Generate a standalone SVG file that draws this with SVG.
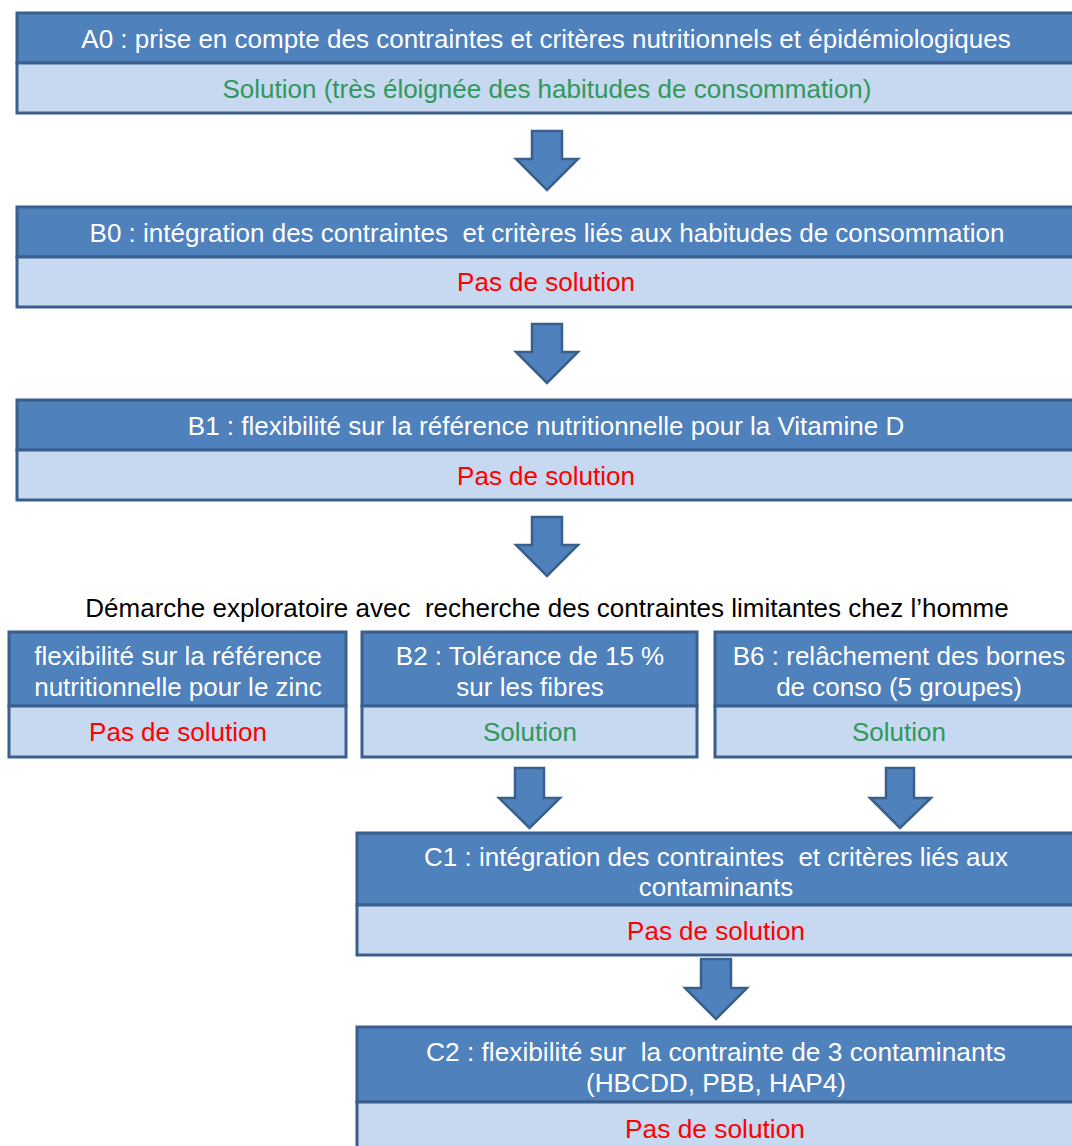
<svg xmlns="http://www.w3.org/2000/svg" width="1072" height="1146" viewBox="0 0 1072 1146">
<style>
.hd{fill:#4F81BD;stroke:#3A5F8C;stroke-width:3}
.bd{fill:#C6D9F0;stroke:#3A5F8C;stroke-width:3}
.ar{fill:#4F81BD;stroke:#3A5F8C;stroke-width:2.5;stroke-linejoin:miter}
text{font-family:"Liberation Sans",Arial,sans-serif;font-size:26px;text-anchor:middle;dominant-baseline:central;white-space:pre}
.w{fill:#FFFFFF}
.g{fill:#31985A}
.r{fill:#FF0000}
.k{fill:#000000}
</style>
<rect width="1072" height="1146" fill="#FFFFFF"/>
<g id="connectors">
<path class="ar" d="M532 131H562V159H578L547 190L516 159H532Z"/>
<path class="ar" d="M532 324H562V352H578L547 383L516 352H532Z"/>
<path class="ar" d="M532 517H562V545H578L547 576L516 545H532Z"/>
<path class="ar" d="M515 768H544V798H560L529.5 828L499 798H515Z"/>
<path class="ar" d="M886 768H914V798H931L900 828L870 798H886Z"/>
<path class="ar" d="M701 959H731V988H747L716 1019L685 988H701Z"/>
</g>
<g id="A0">
<rect class="hd" x="17" y="13" width="1063" height="50"/>
<rect class="bd" x="17" y="63" width="1063" height="50"/>
<text class="w" x="546" y="39">A0 : prise en compte des contraintes et critères nutritionnels et épidémiologiques</text>
<text class="g" x="547" y="89">Solution (très éloignée des habitudes de consommation)</text>
</g>
<g id="B0">
<rect class="hd" x="17" y="207" width="1063" height="50"/>
<rect class="bd" x="17" y="257" width="1063" height="50"/>
<text class="w" x="547" y="233">B0 : intégration des contraintes  et critères liés aux habitudes de consommation</text>
<text class="r" x="546" y="282">Pas de solution</text>
</g>
<g id="B1">
<rect class="hd" x="17" y="400" width="1063" height="50"/>
<rect class="bd" x="17" y="450" width="1063" height="50"/>
<text class="w" x="546" y="426">B1 : flexibilité sur la référence nutritionnelle pour la Vitamine D</text>
<text class="r" x="546" y="476">Pas de solution</text>
</g>
<g id="label">
<text class="k" x="547" y="608">Démarche exploratoire avec  recherche des contraintes limitantes chez l’homme</text>
</g>
<g id="Zinc">
<rect class="hd" x="9" y="632" width="337" height="74"/>
<rect class="bd" x="9" y="706" width="337" height="51"/>
<text class="w" x="178" y="656">flexibilité sur la référence</text>
<text class="w" x="178" y="687">nutritionnelle pour le zinc</text>
<text class="r" x="178" y="732">Pas de solution</text>
</g>
<g id="B2">
<rect class="hd" x="362" y="632" width="335" height="74"/>
<rect class="bd" x="362" y="706" width="335" height="51"/>
<text class="w" x="530" y="656">B2 : Tolérance de 15 %</text>
<text class="w" x="530" y="687">sur les fibres</text>
<text class="g" x="530" y="732">Solution</text>
</g>
<g id="B6">
<rect class="hd" x="715" y="632" width="365" height="74"/>
<rect class="bd" x="715" y="706" width="365" height="51"/>
<text class="w" x="899" y="656">B6 : relâchement des bornes</text>
<text class="w" x="899" y="687">de conso (5 groupes)</text>
<text class="g" x="899" y="732">Solution</text>
</g>
<g id="C1">
<rect class="hd" x="357" y="833" width="723" height="72"/>
<rect class="bd" x="357" y="905" width="723" height="50"/>
<text class="w" x="716" y="857">C1 : intégration des contraintes  et critères liés aux</text>
<text class="w" x="716" y="887">contaminants</text>
<text class="r" x="716" y="931">Pas de solution</text>
</g>
<g id="C2">
<rect class="hd" x="357" y="1027" width="723" height="75"/>
<rect class="bd" x="357" y="1102" width="723" height="60"/>
<text class="w" x="716" y="1052" textLength="580" lengthAdjust="spacingAndGlyphs">C2 : flexibilité sur  la contrainte de 3 contaminants</text>
<text class="w" x="716" y="1083" textLength="260" lengthAdjust="spacingAndGlyphs">(HBCDD, PBB, HAP4)</text>
<text class="r" x="715" y="1129" textLength="180" lengthAdjust="spacingAndGlyphs">Pas de solution</text>
</g>
</svg>
